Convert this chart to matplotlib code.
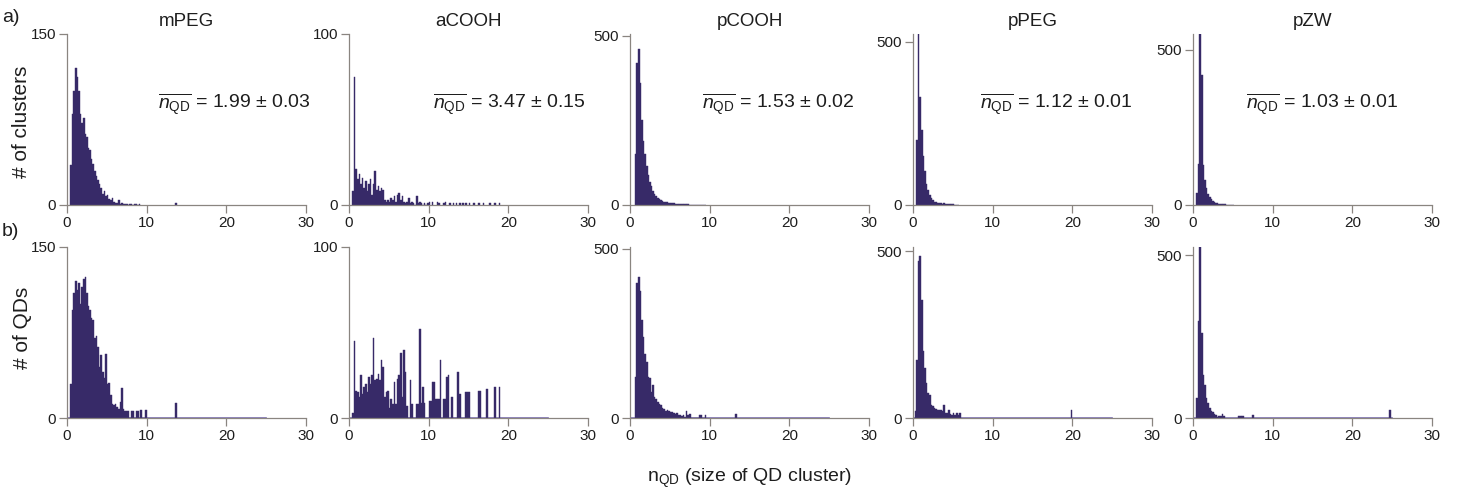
import numpy as np
import matplotlib.pyplot as plt

plt.rcParams['font.family'] = ['Liberation Sans', 'DejaVu Sans']
plt.rcParams['mathtext.fontset'] = 'custom'
plt.rcParams['mathtext.rm'] = 'Liberation Sans'
plt.rcParams['mathtext.it'] = 'Liberation Sans:italic'

# histogram bin width (n_QD units)
BIN = 0.2

samples = ['mPEG', 'aCOOH', 'pCOOH', 'pPEG', 'pZW']
mean_labels = ['1.99 ± 0.03', '3.47 ± 0.15', '1.53 ± 0.02', '1.12 ± 0.01', '1.03 ± 0.01']

# ---- a) number of clusters, counts per bin starting at *_start ----
mpeg_cl_start = 0.4
mpeg_cl = [35, 80, 100, 120, 112, 100, 80, 72, 76, 62, 60, 50, 48, 40, 36, 30, 25, 22, 18, 15,
           10, 12, 8, 9, 5, 4, 6, 3, 2, 2, 4, 1, 2, 1, 1, 1, 0, 1, 1, 0, 1, 1, 0, 1]
mpeg_cl_extra_x = [13.6]
mpeg_cl_extra_y = [2]

acooh_cl_start = 0.4
acooh_cl = [8, 75, 21, 15, 18, 12, 16, 10, 14, 8, 12, 15, 6, 12, 20, 9, 11, 8, 10, 9,
            3, 2, 3, 2, 4, 3, 5, 2, 6, 7, 3, 5, 2, 1, 2, 4, 1, 2, 1, 0, 5, 1, 2, 1, 0, 1, 0, 1]
acooh_cl_extra_x = [10.0, 10.4, 11.0, 11.2, 11.8, 12.0, 12.6, 13.0, 13.4, 13.8, 14.2, 14.6,
                    15.0, 15.6, 16.2, 16.8, 17.6, 18.2, 18.8]
acooh_cl_extra_y = [2, 2, 2, 1, 1, 2, 1, 1, 1, 1, 1, 1, 1, 1, 1, 1, 1, 1, 1]

pcooh_cl_start = 0.6
pcooh_cl = [150, 420, 461, 360, 250, 190, 150, 115, 90, 68, 55, 40, 33, 27, 22, 18, 15, 12, 10, 9,
            8, 7, 6, 5, 5, 4, 4, 3, 3, 3, 2, 2, 2, 2, 1, 1, 1, 1, 1, 1, 1, 1, 1, 0, 1]
pcooh_cl_extra_x = []
pcooh_cl_extra_y = []

ppeg_cl_start = 0.4
ppeg_cl = [200, 600, 330, 230, 150, 105, 65, 45, 30, 20, 14, 10, 8, 6, 5, 5, 4, 6, 3, 3,
           2, 2, 2, 2, 1, 1, 1]
ppeg_cl_extra_x = []
ppeg_cl_extra_y = []

pzw_cl_start = 0.4
pzw_cl = [40, 133, 650, 420, 130, 80, 55, 35, 25, 18, 12, 10, 8, 6, 4, 3, 3, 2, 2, 1, 1, 1, 0, 1]
pzw_cl_extra_x = []
pzw_cl_extra_y = []

# ---- b) number of QDs ----
mpeg_qd_start = 0.4
mpeg_qd = [30, 95, 110, 120, 112, 118, 100, 115, 122, 124, 110, 98, 95, 88, 86, 70, 72, 62, 45, 55,
           40, 35, 56, 30, 31, 20, 12, 11, 12, 10, 8, 14, 26, 8, 6, 6, 6, 0, 6, 6, 0, 6, 6, 0, 7, 0, 0, 7]
mpeg_qd_extra_x = [13.6]
mpeg_qd_extra_y = [13]

acooh_qd_start = 0.4
acooh_qd = [3, 45, 16, 15, 12, 25, 14, 18, 20, 15, 24, 20, 25, 47, 22, 23, 26, 22, 34, 30,
            12, 15, 16, 6, 11, 8, 21, 8, 23, 25, 38, 12, 40, 27, 7, 0, 22, 8, 0, 0,
            8, 8, 52, 9, 18, 9, 0, 0, 10, 10, 21, 21, 11, 11, 11, 34, 0, 11, 11, 24,
            25, 0, 12, 0, 0, 0, 27, 14, 0, 0, 0, 15, 15, 15]
acooh_qd_extra_x = [16.2, 16.4, 17.2, 18.2, 18.8]
acooh_qd_extra_y = [16, 16, 17, 18, 18]

pcooh_qd_start = 0.6
pcooh_qd = [120, 400, 416, 376, 288, 239, 190, 166, 121, 118, 77, 97, 63, 55, 48, 42, 38, 30, 26, 22,
            24, 20, 19, 17, 14, 12, 14, 10, 8, 6, 8, 4, 21, 10, 13, 0, 0, 0, 0, 0, 8, 8, 0, 0, 8]
pcooh_qd_extra_x = [13.2]
pcooh_qd_extra_y = [12]

ppeg_qd_start = 0.2
ppeg_qd = [20, 175, 470, 485, 355, 200, 150, 105, 75, 70, 40, 35, 30, 28, 25, 25, 24, 20, 40, 15,
           15, 25, 12, 10, 15, 10, 16, 10, 14]
ppeg_qd_extra_x = [19.8]
ppeg_qd_extra_y = [25]

pzw_qd_start = 0.4
pzw_qd = [62, 298, 560, 262, 133, 103, 62, 47, 31, 22, 17, 13, 10, 4, 7, 6, 12, 5]
pzw_qd_extra_x = [5.6, 5.8, 6.0, 6.2, 7.4, 24.6]
pzw_qd_extra_y = [6, 6, 6, 5, 9, 26]

# y-axis: top tick value and axis top per panel
cl_ytick = [150, 100, 500, 500, 500]
cl_ymax = [150, 100, 505, 523, 551]
qd_ytick = [150, 100, 500, 500, 500]
qd_ymax = [150, 100, 505, 513, 526]

BAR = '#372a68'
BASE = '#7d6fb5'
SPINE = '#8a8580'
TXT = '#1e1e1e'

top_row = [(mpeg_cl_start, mpeg_cl, mpeg_cl_extra_x, mpeg_cl_extra_y),
           (acooh_cl_start, acooh_cl, acooh_cl_extra_x, acooh_cl_extra_y),
           (pcooh_cl_start, pcooh_cl, pcooh_cl_extra_x, pcooh_cl_extra_y),
           (ppeg_cl_start, ppeg_cl, ppeg_cl_extra_x, ppeg_cl_extra_y),
           (pzw_cl_start, pzw_cl, pzw_cl_extra_x, pzw_cl_extra_y)]
bottom_row = [(mpeg_qd_start, mpeg_qd, mpeg_qd_extra_x, mpeg_qd_extra_y),
              (acooh_qd_start, acooh_qd, acooh_qd_extra_x, acooh_qd_extra_y),
              (pcooh_qd_start, pcooh_qd, pcooh_qd_extra_x, pcooh_qd_extra_y),
              (ppeg_qd_start, ppeg_qd, ppeg_qd_extra_x, ppeg_qd_extra_y),
              (pzw_qd_start, pzw_qd, pzw_qd_extra_x, pzw_qd_extra_y)]

W, H = 1458, 500
fig = plt.figure(figsize=(W / 100, H / 100), dpi=100)

lefts_px = [67, 349, 630, 913, 1193]
ann_x = [0.38, 0.35, 0.30, 0.28, 0.22]
ax_w = 239 / W


def draw_hist(ax, start, counts, ex_x, ex_y):
    ax.bar(start + BIN * np.arange(len(counts)), counts, width=BIN, align='edge',
           color=BAR, edgecolor=BAR, linewidth=0.3, zorder=2)
    if ex_x:
        ax.bar(ex_x, ex_y, width=BIN, align='edge', color=BAR, edgecolor=BAR,
               linewidth=0.3, zorder=2)


def style(ax, ytop, ymax):
    ax.set_xlim(0, 30)
    ax.set_ylim(0, ymax)
    ax.set_xticks([0, 10, 20, 30])
    ax.set_yticks([0, ytop])
    for s in ['top', 'right']:
        ax.spines[s].set_visible(False)
    for s in ['left', 'bottom']:
        ax.spines[s].set_color(SPINE)
        ax.spines[s].set_linewidth(0.9)
    ax.tick_params(direction='out', length=6, width=0.9, color=SPINE,
                   labelsize=11, labelcolor=TXT, pad=2)


for i in range(5):
    # top row: clusters
    ax = fig.add_axes([lefts_px[i] / W, 1 - 205 / H, ax_w, 171 / H])
    draw_hist(ax, *top_row[i])
    style(ax, cl_ytick[i], cl_ymax[i])
    ax.set_title(samples[i], fontsize=13.5, color=TXT, pad=6)
    ax.text(ann_x[i], 0.59, r'$\overline{n_{\mathrm{QD}}}$ = ' + mean_labels[i],
            transform=ax.transAxes, fontsize=14, color=TXT, va='center', ha='left')

    # bottom row: QDs
    ax = fig.add_axes([lefts_px[i] / W, 1 - 418 / H, ax_w, 171 / H])
    ax.plot([0, 25], [0, 0], color=BASE, lw=1.2, zorder=1)
    draw_hist(ax, *bottom_row[i])
    style(ax, qd_ytick[i], qd_ymax[i])

fig.text(2 / W, 1 - 18 / H, 'a)', fontsize=14, color=TXT, va='center', ha='left')
fig.text(2 / W, 1 - 232 / H, 'b)', fontsize=14, color=TXT, va='center', ha='left')
fig.text(22 / W, 1 - 122 / H, '# of clusters', fontsize=15, color=TXT,
         rotation=90, va='center', ha='center')
fig.text(22 / W, 1 - 328 / H, '# of QDs', fontsize=15, color=TXT,
         rotation=90, va='center', ha='center')
fig.text(750 / W, 1 - 478 / H, r'n$_{\mathrm{QD}}$ (size of QD cluster)', fontsize=14,
         color=TXT, va='center', ha='center')

fig.savefig('out.png', dpi=100)
